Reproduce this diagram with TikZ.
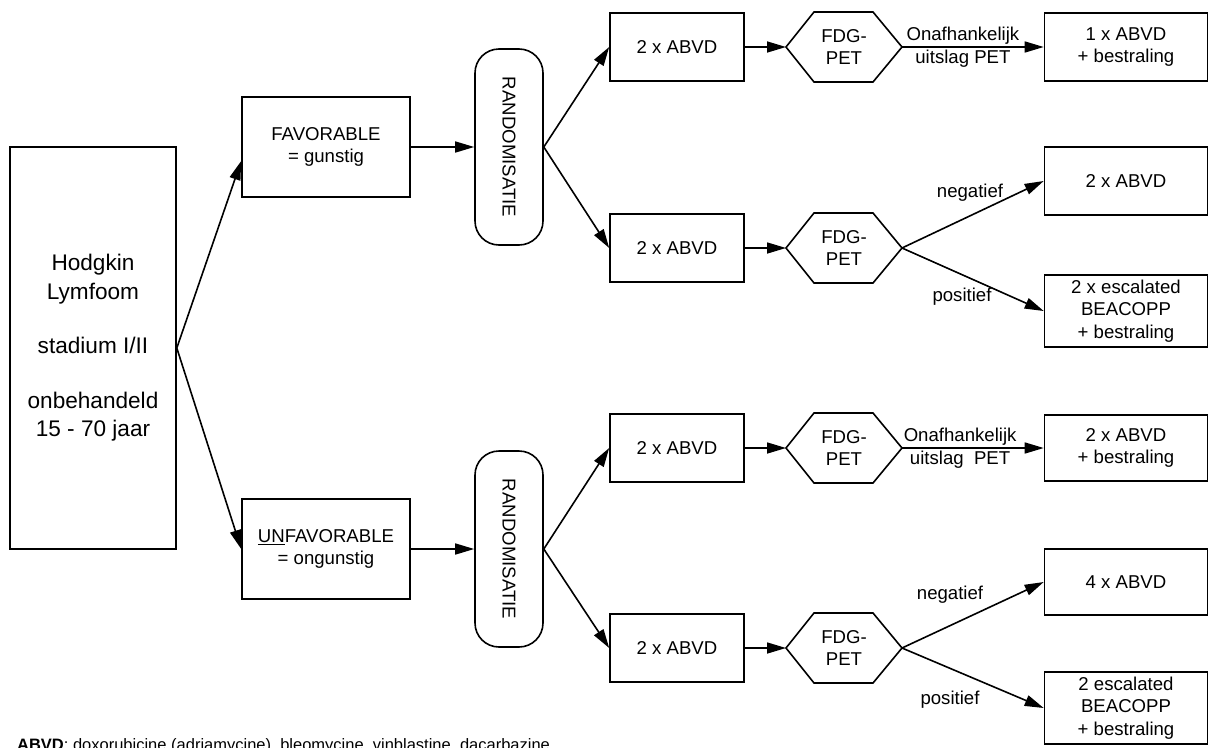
\documentclass[tikz,border=0pt]{standalone}
\usepackage{fontspec}
\setmainfont{Liberation Sans}
\usetikzlibrary{arrows.meta, calc, positioning}

\begin{document}
\begin{tikzpicture}[x=1pt, y=-1pt, line width=1.6pt,
    vak/.style={draw, rectangle, align=center, font=\fontsize{18.6}{22.5}\selectfont},
    hodgbox/.style={vak, minimum width=166pt, minimum height=402pt, font=\fontsize{22.6}{28.5}\selectfont},
    keuze/.style={vak, minimum width=168pt, minimum height=100pt},
    rndbox/.style={draw, rounded corners=24pt, minimum width=68pt, minimum height=196pt, font=\fontsize{18.6}{22.5}\selectfont},
    kuur/.style={vak, minimum width=134pt, minimum height=68pt},
    petnode/.style={align=center, minimum width=116pt, minimum height=70pt, inner sep=0pt, outer sep=0pt, font=\fontsize{18.6}{22.5}\selectfont},
    eind/.style={vak, minimum width=163pt, inner sep=0pt},
    lbl/.style={align=center, font=\fontsize{18.6}{22.5}\selectfont},
    pijl/.style={-{Triangle[length=19pt, width=11pt]}}]
    \useasboundingbox (0,0) rectangle (1209,747);

    \node[hodgbox] (hodg) at (93,348) {Hodgkin\\Lymfoom\\[26pt]stadium I/II\\[26pt]onbehandeld\\15 - 70 jaar};
    \node[keuze] (fav) at (326,147) {FAVORABLE\\= gunstig};
    \node[keuze] (unfav) at (326,549) {\underline{UN}FAVORABLE\\= ongunstig};
    \node[rndbox] (rnd1) at (509,147) {\rotatebox{-90}{RANDOMISATIE}};
    \node[rndbox] (rnd2) at (509,549) {\rotatebox{-90}{RANDOMISATIE}};

    % kuren en PET per arm
    \foreach \i/\y in {1/47,2/248,3/448,4/648} {
        \node[kuur] (abvd\i) at (677,\y) {2 x ABVD};
        \node[petnode] (pet\i) at (844,\y) {FDG-\\PET};
        \draw (pet\i.west) -- ($(pet\i.north west)+(28,0)$) -- ($(pet\i.north east)+(-29,0)$)
            -- (pet\i.east) -- ($(pet\i.south east)+(-29,0)$) -- ($(pet\i.south west)+(28,0)$) -- cycle;
        \draw[pijl] (abvd\i.east) -- (pet\i.west);
    }

    \node[eind, minimum height=68pt] (r1) at (1126,47) {1 x ABVD\\+ bestraling};
    \node[eind, minimum height=68pt] (r2) at (1126,181) {2 x ABVD};
    \node[eind, minimum height=72pt] (r3) at (1126,311) {2 x escalated\\BEACOPP\\+ bestraling};
    \node[eind, minimum height=66pt] (r4) at (1126,448) {2 x ABVD\\+ bestraling};
    \node[eind, minimum height=66pt] (r5) at (1126,582) {4 x ABVD};
    \node[eind, minimum height=72pt] (r6) at (1126,708) {2 escalated\\BEACOPP\\+ bestraling};

    \draw[pijl] (hodg.east) -- ($(fav.west)+(0,14)$);
    \draw[pijl] (hodg.east) -- (unfav.west);
    \draw[pijl] (fav.east) -- (rnd1.west);
    \draw[pijl] (unfav.east) -- (rnd2.west);
    \foreach \r/\a/\b in {rnd1/abvd1/abvd2, rnd2/abvd3/abvd4} {
        \draw[pijl] (\r.east) -- (\a.west);
        \draw[pijl] (\r.east) -- (\b.west);
    }

    \draw[pijl] (pet1.east) -- node[lbl, pos=0.43] {Onafhankelijk\\uitslag PET} (r1.west);
    \draw[pijl] (pet3.east) -- node[lbl, pos=0.41] {Onafhankelijk\\uitslag~~PET} (r4.west);
    \draw[pijl] (pet2.east) -- (r2.west);
    \draw[pijl] (pet2.east) -- (r3.west);
    \draw[pijl] (pet4.east) -- (r5.west);
    \draw[pijl] (pet4.east) -- (r6.west);
    \node[lbl] (neg1) at (970,193) {negatief};
    \node[lbl] (pos1) at (962,297) {positief};
    \node[lbl] (neg2) at (950,595) {negatief};
    \node[lbl] (pos2) at (950,700) {positief};

    \node[anchor=base west, font=\fontsize{16.5}{20}\selectfont] (legenda) at (13,750)
        {\textbf{ABVD}: doxorubicine (adriamycine), bleomycine, vinblastine, dacarbazine};
\end{tikzpicture}
\end{document}
